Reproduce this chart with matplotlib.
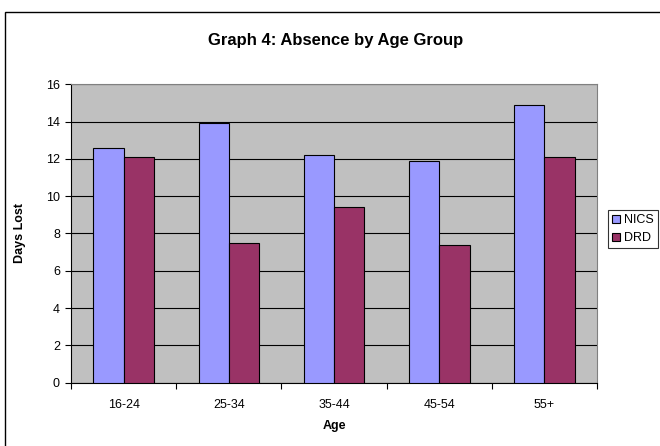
import numpy as np
import matplotlib
matplotlib.use("Agg")
import matplotlib.pyplot as plt
from matplotlib.patches import Rectangle

plt.rcParams["font.family"] = ["Liberation Sans", "DejaVu Sans"]

ages = ["16-24", "25-34", "35-44", "45-54", "55+"]
nics = [12.6, 13.9, 12.2, 11.9, 14.9]
drd = [12.1, 7.5, 9.4, 7.4, 12.1]

fig = plt.figure(figsize=(6.6, 4.46), dpi=100)
ax = fig.add_axes([0.1076, 0.142, 0.797, 0.669])
ax.set_facecolor("#C0C0C0")

x = np.arange(len(ages))
w = 0.288
ax.bar(x - w / 2, nics, w, color="#9999FF", edgecolor="black", linewidth=0.8, label="NICS", zorder=3)
ax.bar(x + w / 2, drd, w, color="#993366", edgecolor="black", linewidth=0.8, label="DRD", zorder=3)

ax.set_xlim(-0.5, len(ages) - 0.5)
ax.set_ylim(0, 16)
ax.set_yticks(range(0, 17, 2))
ax.yaxis.grid(True, color="black", linewidth=0.8, zorder=1)
ax.set_xticks(np.arange(-0.5, len(ages), 1.0))
ax.set_xticklabels([])
ax.set_xticks(x, minor=True)
ax.set_xticklabels(ages, minor=True)
ax.tick_params(axis="x", which="minor", length=0, labelsize=9, pad=12)
ax.tick_params(axis="x", which="major", length=4, direction="out")
ax.tick_params(axis="y", labelsize=9, length=4, direction="out", pad=4)
for s in ["top", "right"]:
    ax.spines[s].set_color("#808080")
ax.spines["left"].set_color("black")
ax.spines["bottom"].set_color("black")

ax.set_xlabel("Age", fontsize=9, fontweight="bold", labelpad=6)
ax.set_ylabel("Days Lost", fontsize=9, fontweight="bold", labelpad=14)
fig.text(0.509, 0.91, "Graph 4: Absence by Age Group", ha="center", va="center",
         fontsize=12, fontweight="bold")

leg = fig.legend(loc="upper left", bbox_to_anchor=(608 / 660, 1 - 210 / 446), fontsize=9,
                 frameon=True, fancybox=False, edgecolor="black", handlelength=0.6,
                 handleheight=0.6, handletextpad=0.3, borderpad=0.35, labelspacing=0.45,
                 borderaxespad=0)
leg.get_frame().set_linewidth(0.8)

fig.patches.append(Rectangle((5 / 660, -0.1), 1.2, (446 - 12) / 446 + 0.1,
                             transform=fig.transFigure, fill=False,
                             edgecolor="black", linewidth=1.0))

fig.savefig("out.png", dpi=100)
